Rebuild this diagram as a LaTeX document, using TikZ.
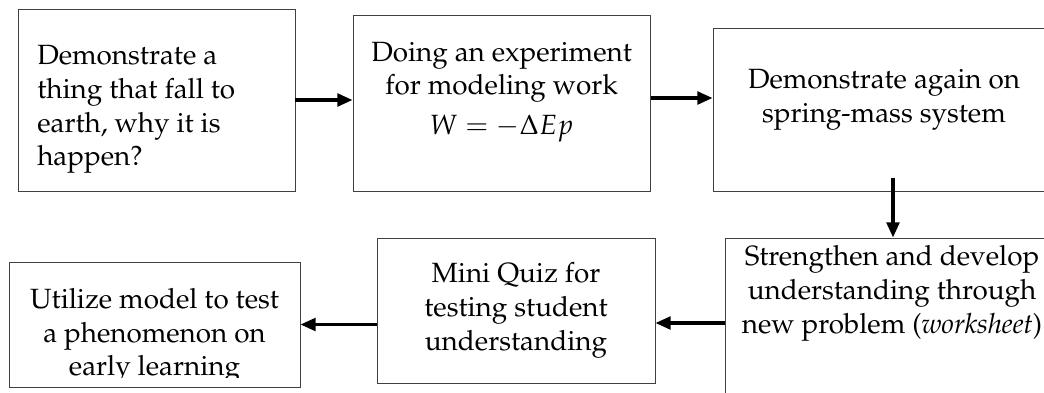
\documentclass[tikz,border=0pt]{standalone}
\usepackage[T1]{fontenc}
\usepackage{mathpazo}
\usetikzlibrary{positioning,arrows.meta,calc}

\begin{document}
\begin{tikzpicture}[
  box/.style={rectangle, draw=black!75, line width=0.7pt, inner sep=0pt},
  txt/.style={align=center, inner sep=0pt, font=\fontsize{19.8}{24}\selectfont},
  arrow/.style={-{Triangle[length=3.8mm, width=3.2mm]}, line width=2.2pt},
]
\useasboundingbox (0,0) rectangle (26.1,-9.8);

% === TOP ROW ===
\node[box, minimum width=6.925cm, minimum height=4.55cm] (b1) at (3.9125, -2.5) {};
\node[txt, align=left, anchor=west] (t1) at (0.925, -2.74)
  {Demonstrate a\\thing that fall to\\earth, why it is\\happen?};

\node[box, minimum width=7.425cm, minimum height=4.4cm] (b2) at (12.5375, -2.575) {};
\node[txt] (t2) at (12.54, -2.3) {Doing an experiment\\for modeling work\\[4pt]$W = -\Delta Ep$};

\node[box, minimum width=8.55cm, minimum height=4.075cm] (b3) at (22.1, -2.7375) {};
\node[txt] (t3) at (22.1, -2.5) {Demonstrate again on\\spring-mass system};

% === BOTTOM ROW ===
\node[box, minimum width=8.35cm, minimum height=4.25cm] (b5) at (22.3, -8.075) {};
\node[txt] (t5) at (22.3, -7.33) {Strengthen and develop\\understanding through\\new problem (\textit{worksheet})};

\node[box, minimum width=6.95cm, minimum height=3.625cm] (b4) at (12.9, -7.7625) {};
\node[txt] (t4) at (12.9, -7.76) {Mini Quiz for\\testing student\\understanding};

\node[box, minimum width=7.275cm, minimum height=3.125cm] (b6) at (3.8625, -8.1125) {};
\begin{scope}
  \clip (0.3, -6.6) rectangle (7.4, -9.425);
  \node[txt] (t6) at (3.8625, -8.4) {Utilize model to test\\a phenomenon on\\early learning};
\end{scope}

% === ARROWS ===
\coordinate (drop) at (22.325, -4.45);
\draw[arrow] (b1.east) -- (b1.east -| b2.west);
\draw[arrow] ([yshift=0.125cm]b2.east) -- ([yshift=0.125cm]b2.east -| b3.west);
\draw[arrow] (drop) -- (drop |- b5.north);
\draw[arrow] (b5.west) -- (b5.west -| b4.east);
\draw[arrow] (b6.east -| b4.west) -- (b6.east);
\end{tikzpicture}
\end{document}
